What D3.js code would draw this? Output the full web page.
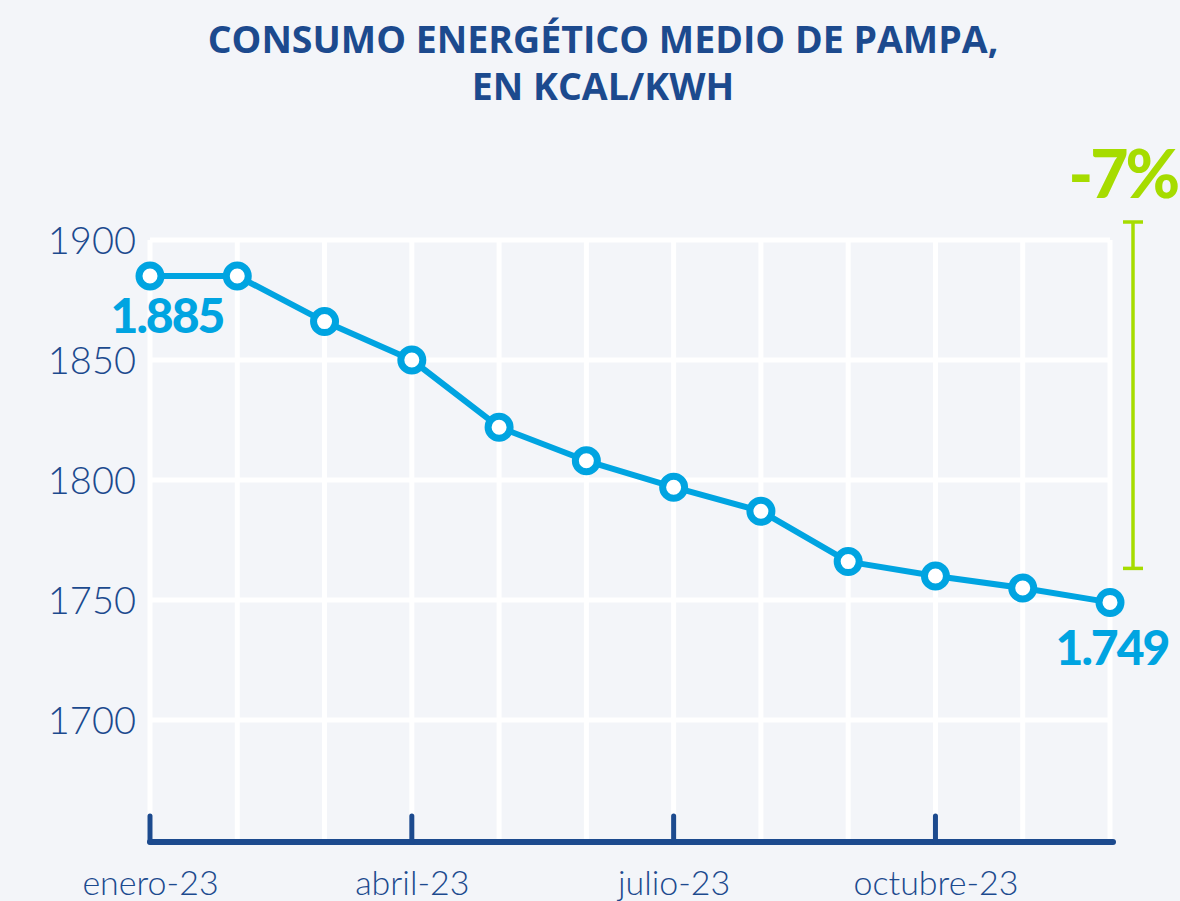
<!DOCTYPE html>
<html><head><meta charset="utf-8">
<script src="https://cdn.jsdelivr.net/npm/d3@7"></script>
<style>
html,body{margin:0;padding:0;background:#f3f5f9;}
svg{display:block;}
</style></head>
<body>
<script>
const titleLines = ["CONSUMO ENERGÉTICO MEDIO DE PAMPA,", "EN KCAL/KWH"];
const months = ["enero-23","febrero-23","marzo-23","abril-23","mayo-23","junio-23","julio-23","agosto-23","septiembre-23","octubre-23","noviembre-23","diciembre-23"];
const values = [1885, 1885, 1866, 1850, 1822, 1808, 1797, 1787, 1766, 1760, 1755, 1749];
const yTicks = [1700, 1750, 1800, 1850, 1900];
const xTickLabels = ["enero-23","abril-23","julio-23","octubre-23"];
const firstLabel = "1.885";
const lastLabel = "1.749";
const changeLabel = "-7%";

const W = 1180, H = 901;
const blue = "#1c4a8e", cyan = "#00a4e1", green = "#a6dc00", grid = "#ffffff";

const svg = d3.select("body").append("svg").attr("width", W).attr("height", H);
svg.append("rect").attr("width", W).attr("height", H).attr("fill", "#f3f5f9");

const x = d3.scalePoint().domain(months).range([150, 1110]);
const y = d3.scaleLinear().domain([1650, 1900]).range([840, 240]);

// title
svg.append("g").selectAll("text").data(titleLines).join("text")
  .attr("x", 603).attr("y", (d,i) => 53 + i*47)
  .attr("text-anchor", "middle")
  .attr("font-family", "'Open Sans', sans-serif").attr("font-weight", 700)
  .attr("font-size", 37.5).attr("fill", blue)
  .text(d => d);

// grid
const g = svg.append("g");
g.selectAll("line.h").data(yTicks).join("line").attr("class","h")
  .attr("x1", 150).attr("x2", 1110).attr("y1", d => y(d)).attr("y2", d => y(d))
  .attr("stroke", grid).attr("stroke-width", 5);
g.selectAll("line.v").data(months).join("line").attr("class","v")
  .attr("x1", d => x(d)).attr("x2", d => x(d)).attr("y1", y(1900)).attr("y2", y(1650))
  .attr("stroke", grid).attr("stroke-width", 5);

// y axis labels
const yAxis = d3.axisLeft(y).tickValues(yTicks).tickSize(0).tickPadding(0).tickFormat(d3.format("d"));
const ya = svg.append("g").attr("transform", "translate(136,0)").call(yAxis);
ya.select(".domain").remove();
ya.selectAll("text").attr("font-family", "Lato, sans-serif").attr("font-weight", 300)
  .attr("font-size", 38).attr("fill", blue).attr("dy", "0.35em");

// x axis
const xAxis = d3.axisBottom(x).tickValues(xTickLabels).tickSize(0).tickPadding(0);
const xa = svg.append("g").attr("transform", "translate(0,842)").call(xAxis);
xa.select(".domain").remove();
xa.selectAll("text").attr("font-family", "Lato, sans-serif").attr("font-weight", 300)
  .attr("font-size", 34).attr("fill", blue).attr("dy", 0).attr("y", 53);
svg.append("line").attr("x1", x(months[0])).attr("x2", x(months[months.length-1]) + 3)
  .attr("y1", 842).attr("y2", 842).attr("stroke", blue).attr("stroke-width", 6).attr("stroke-linecap", "round");
svg.append("g").selectAll("line").data(xTickLabels).join("line")
  .attr("x1", d => x(d)).attr("x2", d => x(d)).attr("y1", 816).attr("y2", 842)
  .attr("stroke", blue).attr("stroke-width", 5).attr("stroke-linecap", "round");

// line
const data = months.map((m,i) => ({m, v: values[i]}));
svg.append("path").datum(data)
  .attr("d", d3.line().x(d => x(d.m)).y(d => y(d.v)))
  .attr("fill", "none").attr("stroke", cyan).attr("stroke-width", 6).attr("stroke-linejoin", "round");
svg.append("g").selectAll("circle").data(data).join("circle")
  .attr("cx", d => x(d.m)).attr("cy", d => y(d.v)).attr("r", 11)
  .attr("fill", "#ffffff").attr("stroke", cyan).attr("stroke-width", 7);

// value labels
svg.append("text").attr("x", x(months[0]) + 17).attr("y", y(values[0]) + 57)
  .attr("text-anchor", "middle").attr("font-family", "Lato, sans-serif").attr("font-weight", 900)
  .attr("font-size", 48).attr("letter-spacing", -2).attr("fill", cyan).text(firstLabel);
const last = values.length - 1;
svg.append("text").attr("x", x(months[last]) + 2).attr("y", y(values[last]) + 63)
  .attr("text-anchor", "middle").attr("font-family", "Lato, sans-serif").attr("font-weight", 900)
  .attr("font-size", 48).attr("letter-spacing", -2).attr("fill", cyan).text(lastLabel);

// change bracket
const bx = 1133;
const bTop = y(1900) - 18, bBot = y(values[last]) - 34;
const br = svg.append("g").attr("stroke", green).attr("stroke-width", 3.5);
br.append("line").attr("x1", bx).attr("x2", bx).attr("y1", bTop).attr("y2", bBot);
br.append("line").attr("x1", bx-10).attr("x2", bx+10).attr("y1", bTop).attr("y2", bTop);
br.append("line").attr("x1", bx-10).attr("x2", bx+10).attr("y1", bBot).attr("y2", bBot);
svg.append("text").attr("x", 1177).attr("y", 198).attr("text-anchor", "end")
  .attr("font-family", "Lato, sans-serif").attr("font-weight", 900)
  .attr("font-size", 66).attr("letter-spacing", -3).attr("fill", green).text(changeLabel);
</script>
</body></html>
